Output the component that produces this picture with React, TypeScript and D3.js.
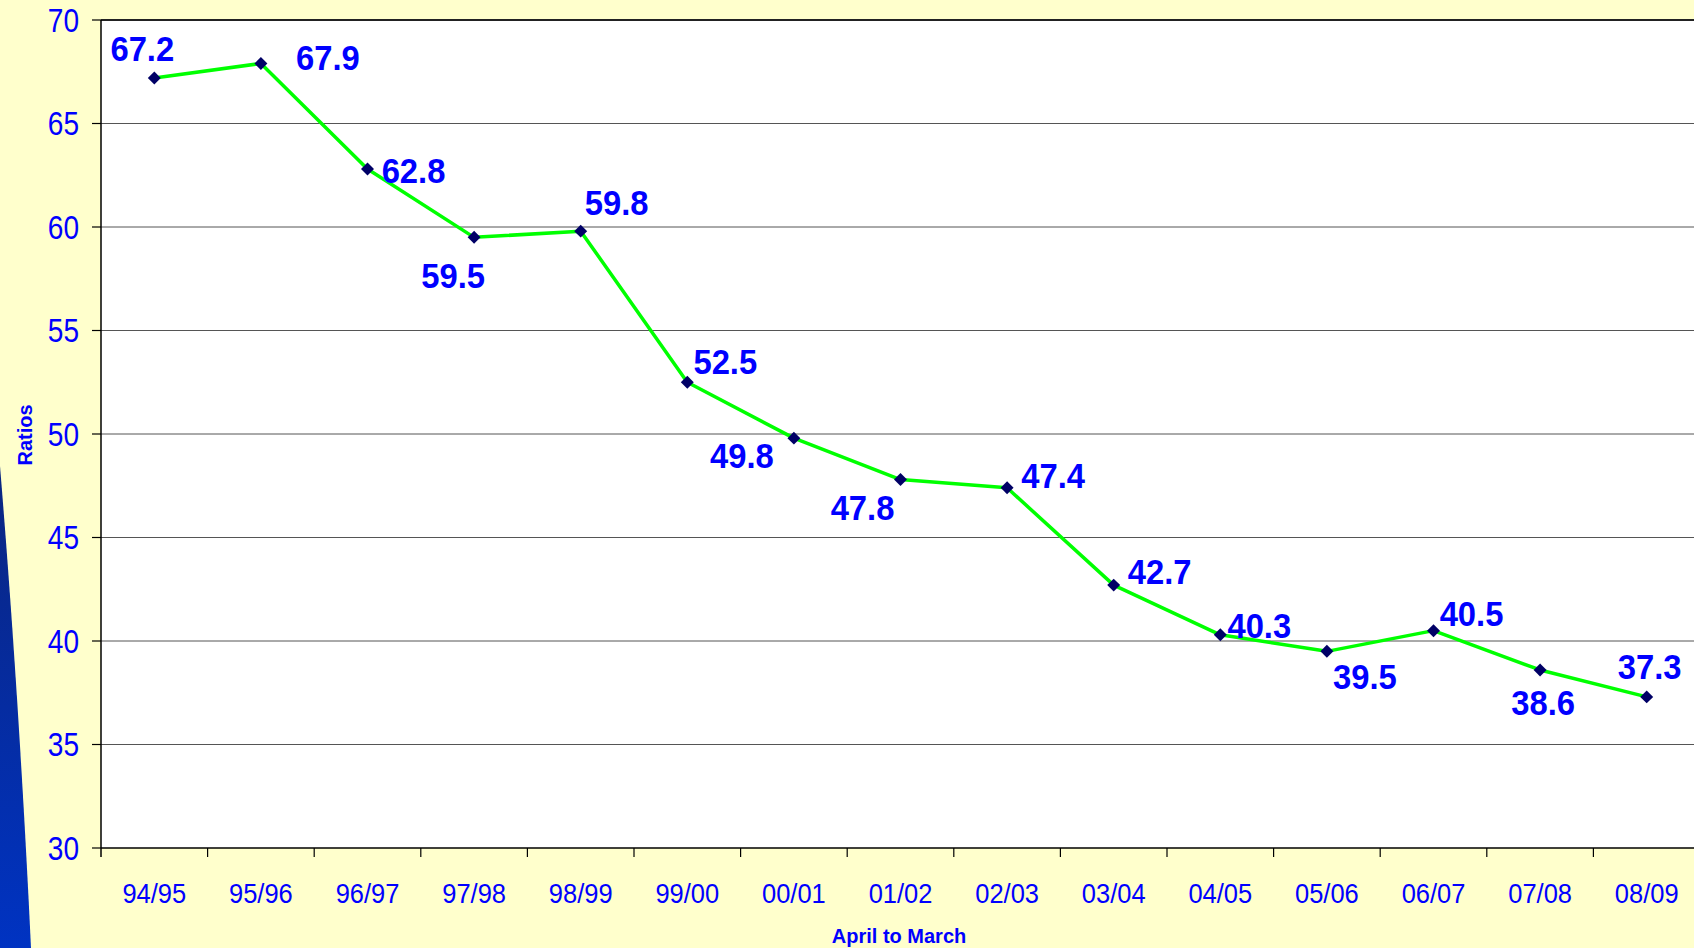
import React from "react";
import * as d3 from "d3";

const categories = ["94/95","95/96","96/97","97/98","98/99","99/00","00/01","01/02","02/03","03/04","04/05","05/06","06/07","07/08","08/09"];
const ratios = [67.2, 67.9, 62.8, 59.5, 59.8, 52.5, 49.8, 47.8, 47.4, 42.7, 40.3, 39.5, 40.5, 38.6, 37.3];
const yTicks = [30, 35, 40, 45, 50, 55, 60, 65, 70];
// label placement offsets (layout only)
const labelOffsets: [number, number][] = [
  [-12, -30], [67, -6], [46, 1], [-21, 38], [36, -29], [38, -21], [-52, 17], [-38, 27],
  [46, -13], [46, -14], [39, -10], [38, 25], [38, -18], [3, 32], [3, -31],
];

const W = 1694, H = 948;
const left = 101, right = 1700, top = 20, bottom = 848;
const FONT = "'Liberation Sans', Arial, sans-serif";
const BLUE = "#0000ff";

export default function App() {
  const x = d3.scaleBand<string>().domain(categories).range([left, right]);
  const y = d3.scaleLinear().domain([30, 70]).range([bottom, top]);
  const cx = (c: string) => (x(c) as number) + x.bandwidth() / 2;
  const line = d3.line<number>().x((_, i) => cx(categories[i])).y((d) => y(d));
  const diamond = d3.symbol().type(d3.symbolSquare).size(84)();

  return (
    <svg width={W} height={H} style={{ position: "absolute", left: 0, top: 0, display: "block" }}>
      <defs>
        <linearGradient id="wedge" x1="0" y1="0" x2="0" y2="1">
          <stop offset="0" stopColor="#0a2580" />
          <stop offset="1" stopColor="#0033c2" />
        </linearGradient>
      </defs>
      <rect x={0} y={0} width={W} height={H} fill="#ffffcc" />
      <path d="M0,466 C11,600 22,760 31,948 L0,948 Z" fill="url(#wedge)" />
      <rect x={left} y={top} width={W - left} height={bottom - top} fill="#ffffff" />
      {yTicks.filter((t) => t > 30 && t < 70).map((t) => (
        <line key={t} x1={left} x2={W} y1={y(t)} y2={y(t)} stroke="#555" strokeWidth={1} />
      ))}
      <line x1={left} x2={W} y1={top} y2={top} stroke="#222" strokeWidth={2} />
      <line x1={left} x2={left} y1={top} y2={bottom + 9} stroke="#000" strokeWidth={1.5} />
      {yTicks.map((t) => (
        <g key={t}>
          <line x1={left - 9} x2={left} y1={y(t)} y2={y(t)} stroke="#000" strokeWidth={1.2} />
          <g transform={`translate(79,${y(t)}) scale(0.85,1)`}>
            <text textAnchor="end" dy="0.36em" fontFamily={FONT} fontSize={33} fill={BLUE}>{t}</text>
          </g>
        </g>
      ))}
      <line x1={left} x2={W} y1={bottom} y2={bottom} stroke="#000" strokeWidth={1.5} />
      {categories.map((c) => (
        <g key={c}>
          <line x1={(x(c) as number) + x.bandwidth()} x2={(x(c) as number) + x.bandwidth()} y1={bottom} y2={bottom + 9} stroke="#000" strokeWidth={1.2} />
          <g transform={`translate(${cx(c)},${893}) scale(0.91,1)`}>
            <text textAnchor="middle" dy="0.36em" fontFamily={FONT} fontSize={28} fill={BLUE}>{c}</text>
          </g>
        </g>
      ))}
      <path d={line(ratios) || ""} fill="none" stroke="#00ff00" strokeWidth={3.5} strokeLinejoin="round" />
      {ratios.map((v, i) => (
        <path key={i} d={diamond || ""} transform={`translate(${cx(categories[i])},${y(v)}) rotate(45)`} fill="#000066" />
      ))}
      {ratios.map((v, i) => (
        <g key={"l" + i} transform={`translate(${cx(categories[i]) + labelOffsets[i][0]},${y(v) + labelOffsets[i][1]}) scale(0.91,1)`}>
          <text textAnchor="middle" dy="0.36em" fontFamily={FONT} fontSize={36} fontWeight="bold" fill={BLUE}>{v.toFixed(1)}</text>
        </g>
      ))}
      <text x={899} y={936} textAnchor="middle" dy="0.36em" fontFamily={FONT} fontSize={20} fontWeight="bold" fill={BLUE}>April to March</text>
      <text transform="translate(25,435) rotate(-90)" textAnchor="middle" dy="0.36em" fontFamily={FONT} fontSize={20} fontWeight="bold" fill={BLUE}>Ratios</text>
    </svg>
  );
}
